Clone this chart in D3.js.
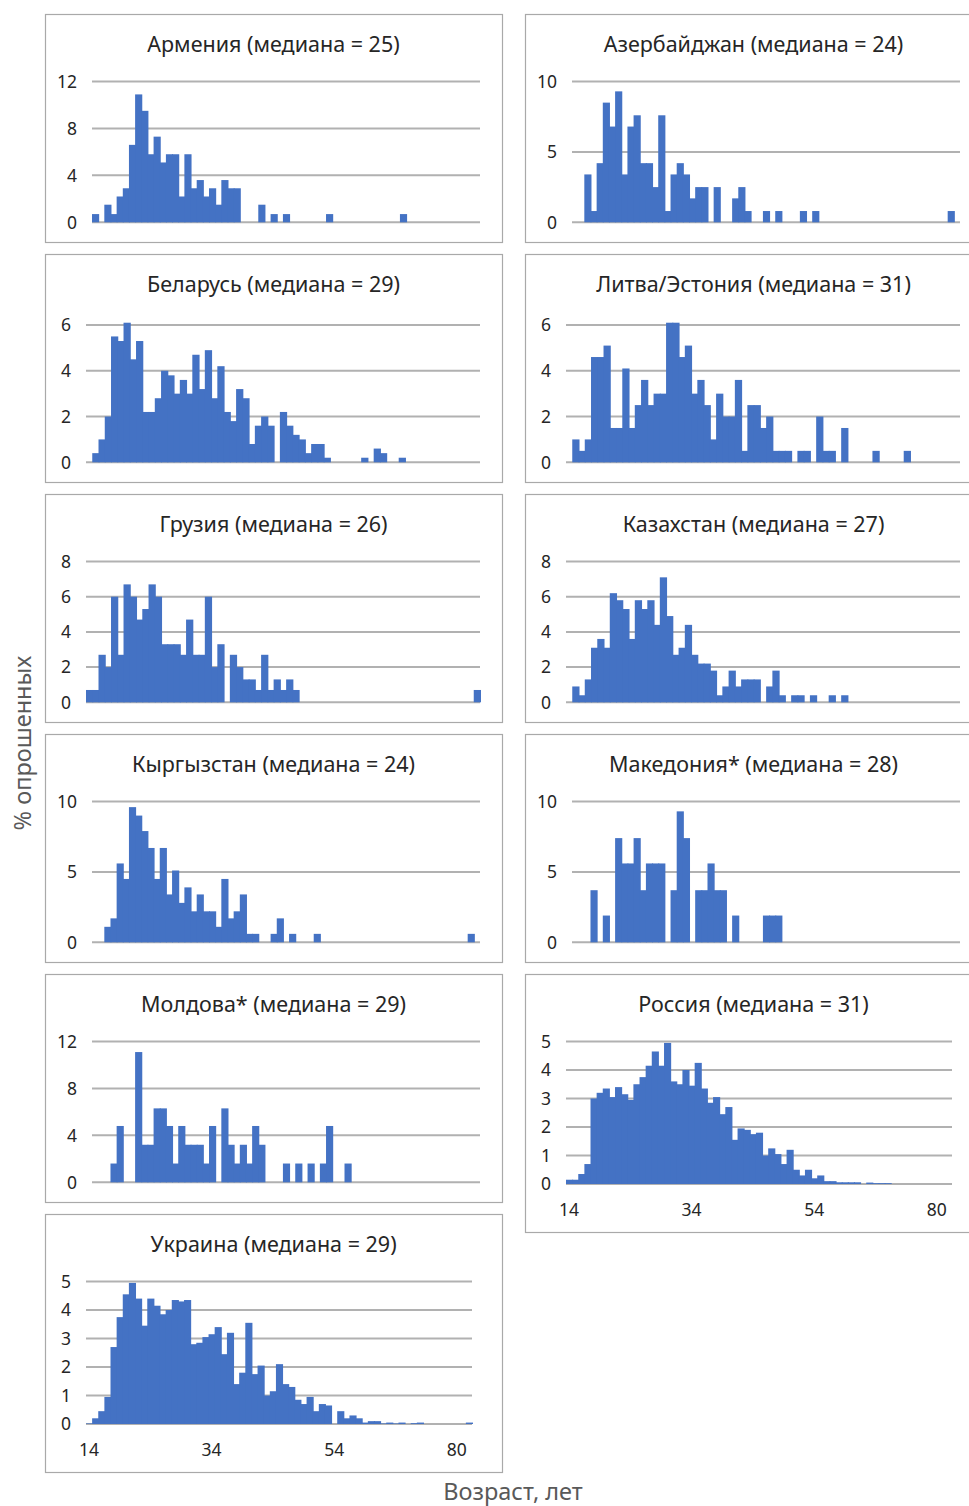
<!DOCTYPE html>
<html>
<head>
<meta charset="utf-8">
<script src="https://cdn.jsdelivr.net/npm/d3@7"></script>
<style>
  body { margin: 0; background: #fff; }
  svg { display: block; }
  text { font-family: "Noto Sans", "Open Sans", sans-serif; }
</style>
</head>
<body>
<svg id="chart"></svg>
<script>
// % of respondents per age category (63 age categories, index 0 = 14 years)
const armenia = [
  0.7, 0, 1.5, 0.7, 2.2, 2.9, 6.6, 10.9, 9.5, 5.8,
  7.3, 5.1, 5.8, 5.8, 2.2, 5.8, 2.9, 3.6, 2.2, 2.9,
  1.5, 3.6, 2.9, 2.9, 0, 0, 0, 1.5, 0, 0.7,
  0, 0.7, 0, 0, 0, 0, 0, 0, 0.7, 0,
  0, 0, 0, 0, 0, 0, 0, 0, 0, 0,
  0.7
];
const azerbaijan = [
  0, 0, 3.4, 0.8, 4.2, 8.5, 6.8, 9.3, 3.4, 6.8,
  7.6, 4.2, 4.2, 2.5, 7.6, 0.8, 3.4, 4.2, 3.4, 1.7,
  2.5, 2.5, 0, 2.5, 0, 0, 1.7, 2.5, 0.8, 0,
  0, 0.8, 0, 0.8, 0, 0, 0, 0.8, 0, 0.8,
  0, 0, 0, 0, 0, 0, 0, 0, 0, 0,
  0, 0, 0, 0, 0, 0, 0, 0, 0, 0,
  0, 0.8
];
const belarus = [
  0, 0.4, 1.0, 2.0, 5.5, 5.3, 6.1, 4.5, 5.3, 2.2,
  2.2, 2.8, 4.0, 3.8, 3.0, 3.6, 3.0, 4.7, 3.2, 4.9,
  2.8, 4.2, 2.2, 1.8, 3.2, 2.8, 0.8, 1.6, 2.0, 1.6,
  0, 2.2, 1.6, 1.2, 1.0, 0.4, 0.8, 0.8, 0.2, 0,
  0, 0, 0, 0, 0.2, 0, 0.6, 0.4, 0, 0,
  0.2
];
const lithuania = [
  0, 1.0, 0.5, 1.0, 4.6, 4.6, 5.1, 1.5, 1.5, 4.1,
  1.5, 2.5, 3.6, 2.5, 3.0, 3.0, 6.1, 6.1, 4.6, 5.1,
  3.0, 3.6, 2.5, 1.0, 3.0, 2.0, 2.0, 3.6, 0.5, 2.5,
  2.5, 1.5, 2.0, 0.5, 0.5, 0.5, 0, 0.5, 0.5, 0,
  2.0, 0.5, 0.5, 0, 1.5, 0, 0, 0, 0, 0.5,
  0, 0, 0, 0, 0.5
];
const georgia = [
  0.7, 0.7, 2.7, 2.0, 6.0, 2.7, 6.7, 6.0, 4.7, 5.3,
  6.7, 6.0, 3.3, 3.3, 3.3, 2.7, 4.7, 2.7, 2.7, 6.0,
  2.0, 3.3, 0, 2.7, 2.0, 1.3, 1.3, 0.7, 2.7, 0.7,
  1.3, 0.7, 1.3, 0.7, 0, 0, 0, 0, 0, 0,
  0, 0, 0, 0, 0, 0, 0, 0, 0, 0,
  0, 0, 0, 0, 0, 0, 0, 0, 0, 0,
  0, 0, 0.7
];
const kazakhstan = [
  0, 0.9, 0.4, 1.3, 3.1, 3.6, 3.1, 6.2, 5.8, 5.3,
  3.6, 5.8, 5.3, 5.8, 4.4, 7.1, 4.9, 2.7, 3.1, 4.4,
  2.7, 2.2, 2.2, 1.8, 0.4, 0.9, 1.8, 0.9, 1.3, 1.3,
  1.3, 0, 0.9, 1.8, 0.4, 0, 0.4, 0.4, 0, 0.4,
  0, 0, 0.4, 0, 0.4
];
const kyrgyzstan = [
  0, 0, 1.1, 1.7, 5.6, 4.5, 9.6, 9.0, 7.9, 6.7,
  4.5, 6.7, 3.4, 5.1, 2.8, 3.9, 2.2, 3.4, 2.2, 2.2,
  1.1, 4.5, 1.7, 2.2, 3.4, 0.6, 0.6, 0, 0, 0.6,
  1.7, 0, 0.6, 0, 0, 0, 0.6, 0, 0, 0,
  0, 0, 0, 0, 0, 0, 0, 0, 0, 0,
  0, 0, 0, 0, 0, 0, 0, 0, 0, 0,
  0, 0.6
];
const macedonia = [
  0, 0, 0, 3.7, 0, 1.9, 0, 7.4, 5.6, 5.6,
  7.4, 3.7, 5.6, 5.6, 5.6, 0, 3.7, 9.3, 7.4, 0,
  3.7, 3.7, 5.6, 3.7, 3.7, 0, 1.9, 0, 0, 0,
  0, 1.9, 1.9, 1.9
];
const moldova = [
  0, 0, 0, 1.6, 4.8, 0, 0, 11.1, 3.2, 3.2,
  6.3, 6.3, 4.8, 1.6, 4.8, 3.2, 3.2, 3.2, 1.6, 4.8,
  0, 6.3, 3.2, 1.6, 3.2, 1.6, 4.8, 3.2, 0, 0,
  0, 1.6, 0, 1.6, 0, 1.6, 0, 1.6, 4.8, 0,
  0, 1.6
];
const russia = [
  0.15, 0.15, 0.35, 0.7, 3.0, 3.2, 3.35, 3.05, 3.4, 3.15,
  2.95, 3.5, 3.75, 4.15, 4.65, 4.15, 4.95, 3.6, 3.5, 4.0,
  3.45, 4.25, 3.35, 2.85, 3.05, 2.45, 2.7, 1.55, 1.95, 1.9,
  1.75, 1.8, 1.0, 1.25, 1.05, 0.7, 1.2, 0.5, 0.3, 0.5,
  0.2, 0.3, 0.1, 0.1, 0.06, 0.06, 0.06, 0.06, 0, 0.05,
  0.03, 0.03, 0.03
];
const ukraine = [
  0.02, 0.2, 0.45, 0.95, 2.7, 3.75, 4.55, 4.95, 4.4, 3.45,
  4.4, 4.15, 3.85, 4.0, 4.35, 4.3, 4.35, 2.8, 2.85, 3.05,
  3.15, 3.4, 2.45, 3.2, 1.4, 1.8, 3.55, 1.75, 2.05, 1.0,
  1.15, 2.1, 1.4, 1.3, 0.85, 0.7, 0.95, 0.45, 0.7, 0.65,
  0, 0.45, 0.2, 0.3, 0.2, 0.05, 0.1, 0.1, 0.02, 0.05,
  0.02, 0.05, 0, 0.03, 0.05, 0, 0, 0, 0, 0,
  0, 0, 0.05
];

const ageCount = 63;
const ageTickIndex = [0, 20, 40, 60];
const ageTickLabels = ['14', '34', '54', '80'];

const panels = [
  { title: 'Армения (медиана = 25)', values: armenia, ticks: [0, 4, 8, 12], col: 0, row: 0 },
  { title: 'Азербайджан (медиана = 24)', values: azerbaijan, ticks: [0, 5, 10], col: 1, row: 0 },
  { title: 'Беларусь (медиана = 29)', values: belarus, ticks: [0, 2, 4, 6], col: 0, row: 1 },
  { title: 'Литва/Эстония (медиана = 31)', values: lithuania, ticks: [0, 2, 4, 6], col: 1, row: 1 },
  { title: 'Грузия (медиана = 26)', values: georgia, ticks: [0, 2, 4, 6, 8], col: 0, row: 2 },
  { title: 'Казахстан (медиана = 27)', values: kazakhstan, ticks: [0, 2, 4, 6, 8], col: 1, row: 2 },
  { title: 'Кыргызстан (медиана = 24)', values: kyrgyzstan, ticks: [0, 5, 10], col: 0, row: 3 },
  { title: 'Македония* (медиана = 28)', values: macedonia, ticks: [0, 5, 10], col: 1, row: 3 },
  { title: 'Молдова* (медиана = 29)', values: moldova, ticks: [0, 4, 8, 12], col: 0, row: 4 },
  { title: 'Россия (медиана = 31)', values: russia, ticks: [0, 1, 2, 3, 4, 5], col: 1, row: 4, axis: true },
  { title: 'Украина (медиана = 29)', values: ukraine, ticks: [0, 1, 2, 3, 4, 5], col: 0, row: 5, axis: true }
];

const width = 969, height = 1506;
const colX = [45, 525];
const rowY = [14, 254, 494, 734, 974, 1214];
const boxW = 457;
const barColor = '#4472c4';
const gridColor = '#b1b1b1';

const svg = d3.select('#chart').attr('width', width).attr('height', height);

panels.forEach(p => {
  const bx = colX[p.col], by = rowY[p.row];
  const boxH = p.axis ? 258 : 228;
  const yMax = d3.max(p.ticks);
  const left = bx + (yMax >= 10 ? 47 : 41);
  const right = bx + (p.axis ? 427 : 435);
  const top = by + (yMax === 6 ? 71 : 67.5);
  const bottom = by + (p.axis ? 210 : 208.3);

  const g = svg.append('g');

  g.append('rect')
    .attr('x', bx + 0.5).attr('y', by + 0.5)
    .attr('width', boxW).attr('height', boxH)
    .attr('fill', '#fff')
    .attr('stroke', '#a9a9a9')
    .attr('stroke-width', 1.2);

  g.append('text')
    .attr('x', bx + boxW / 2).attr('y', by + 38)
    .attr('text-anchor', 'middle')
    .attr('font-size', 21.5)
    .attr('fill', '#262626')
    .text(p.title);

  const x = d3.scaleBand().domain(d3.range(ageCount)).range([left, right]).padding(0);
  const y = d3.scaleLinear().domain([0, yMax]).range([bottom, top]);

  g.append('g')
    .selectAll('line')
    .data(p.ticks)
    .join('line')
    .attr('x1', left).attr('x2', right)
    .attr('y1', d => y(d)).attr('y2', d => y(d))
    .attr('stroke', gridColor)
    .attr('stroke-width', 2);

  g.append('g')
    .selectAll('text')
    .data(p.ticks)
    .join('text')
    .attr('x', left - 15)
    .attr('y', d => y(d))
    .attr('dy', '0.36em')
    .attr('text-anchor', 'end')
    .attr('font-size', 17.5)
    .attr('fill', '#262626')
    .text(d => d);

  // bars are widened by 1px so neighbouring categories touch without seams
  g.append('g')
    .selectAll('rect')
    .data(p.values.map((v, i) => ({ i, v })).filter(d => d.v > 0))
    .join('rect')
    .attr('x', d => x(d.i))
    .attr('width', x.bandwidth() + 1)
    .attr('y', d => y(d.v))
    .attr('height', d => bottom - y(d.v))
    .attr('fill', barColor);

  if (p.axis) {
    g.append('g')
      .selectAll('text')
      .data(ageTickIndex)
      .join('text')
      .attr('x', (d) => x(d) + x.bandwidth() / 2)
      .attr('y', bottom + 26)
      .attr('dy', '0.36em')
      .attr('text-anchor', 'middle')
      .attr('font-size', 17.5)
      .attr('fill', '#262626')
      .text((d, i) => ageTickLabels[i]);
  }
});

svg.append('text')
  .attr('transform', 'translate(23,743) rotate(-90)')
  .attr('text-anchor', 'middle')
  .attr('dy', '0.35em')
  .attr('font-size', 23.5)
  .attr('fill', '#595959')
  .text('% опрошенных');

svg.append('text')
  .attr('x', 513).attr('y', 1492)
  .attr('dy', '0.35em')
  .attr('text-anchor', 'middle')
  .attr('font-size', 23.5)
  .attr('fill', '#595959')
  .text('Возраст, лет');
</script>
</body>
</html>
